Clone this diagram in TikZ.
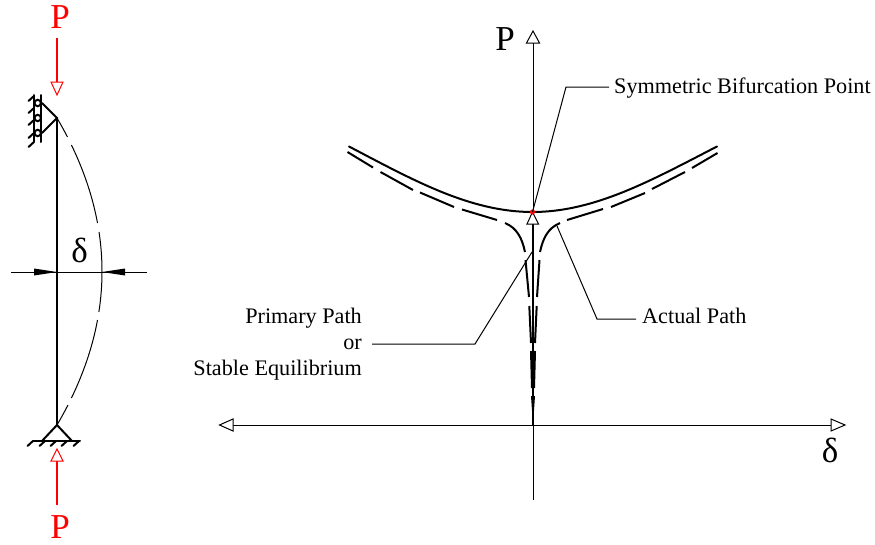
\documentclass[tikz,border=0pt]{standalone}
\usepackage{fontspec}
\setmainfont{Liberation Serif}
\definecolor{pred}{RGB}{255,0,0}
\tikzset{
  thin line/.style={line width=1pt,black},
  col line/.style={line width=2.2pt,black},
  sup line/.style={line width=2pt,black,line cap=round},
  path line/.style={line width=2pt,black,line cap=butt},
  red line/.style={line width=1.1pt,pred},
  open tip/.style={line width=1pt,fill=white,line join=miter},
  solid tip/.style={fill=black,draw=none},
  label text/.style={font=\fontsize{22.2}{26}\selectfont,inner sep=0pt,text=black},
  big text/.style={font=\fontsize{35}{38}\selectfont,inner sep=0pt},
}
\begin{document}
\begin{tikzpicture}[x=1pt,y=-1pt]
\useasboundingbox (0,0) rectangle (875,544);
% named points
\coordinate (colT) at (57,118);
\coordinate (colB) at (57,425);
\coordinate (topA) at (57,38);
\coordinate (topB) at (57,82);
\coordinate (botA) at (57,505);
\coordinate (botB) at (57,461);
\coordinate (dL) at (11,272);
\coordinate (dR) at (147,272);
\coordinate (yT) at (533,43);
\coordinate (yB) at (533,500);
\coordinate (xL) at (233,425);
\coordinate (xR) at (831,425);
\coordinate (bif) at (532.5,212);
\coordinate (a1) at (566,87);
\coordinate (a1e) at (609,87);
\coordinate (act0) at (557,226);
\coordinate (a2) at (597,319);
\coordinate (a2e) at (636,319);
\coordinate (pr0) at (532,252);
\coordinate (a3) at (475,344);
\coordinate (a3e) at (372,344);
% column
\draw[col line] (colT) -- (colB);
\foreach \a/\b in {118/137,145/223,232/312,320/398,405/425}
  \draw[thin line] plot[domain=\a:\b,samples=25,smooth] ({57+45*(1-((\x-271.5)/153.5)^2)},\x);
% roller support
\draw[sup line] (42,103) -- (colT) -- (42,133);
\draw[sup line] (41,95) -- (41,142);
\draw[sup line] (34,95) -- (34,142);
\foreach \y in {103,118,133} \draw[line width=2pt] (37.7,\y) circle (3.2);
\foreach \y in {96,108,120,133,142} \draw[sup line] (34,\y) -- (28.5,{\y+5});
% pin support
\draw[sup line] (42,441) -- (colB) -- (72,441);
\draw[sup line] (33,441) -- (80,441);
\foreach \x in {33,45,56,67,79} \draw[sup line] (\x,441) -- ({\x-5.5},446);
% red loads
\draw[red line] (topA) -- (topB);
\draw[red line,open tip,draw=pred] (51,82) -- (63,82) -- (57,95) -- cycle;
\draw[red line] (botA) -- (botB);
\draw[red line,open tip,draw=pred] (51,461) -- (63,461) -- (57,449) -- cycle;
\node[big text,text=pred] (pTop) at (60,17) {P};
\node[big text,text=pred] (pBot) at (60,527) {P};
% delta dimension
\draw[thin line] (dL) -- (dR);
\fill[solid tip] (57,272) -- (34,268.5) -- (34,275.5) -- cycle;
\fill[solid tip] (102,272) -- (125,268.5) -- (125,275.5) -- cycle;
\node[big text] (dLeft) at (79.5,250) {δ};
% axes
\draw[thin line] (yT) -- (yB);
\draw[line width=1.4pt] (533,224) -- (colB -| yT);
\draw[thin line] (xL) -- (xR);
\draw[open tip] (526.5,43) -- (539.5,43) -- (533,31) -- cycle;
\draw[open tip] (233,419) -- (233,431) -- (219.5,425) -- cycle;
\draw[open tip] (831,419) -- (831,431) -- (845,425) -- cycle;
\node[big text] (pAxis) at (505,39.5) {P};
\node[big text] (dAxis) at (830,450) {δ};
% paths
\draw[path line,line cap=round] (349,146.5) .. controls (413,180) and (470,212) .. (532.5,212);
\draw[path line,line cap=round] (717,146.5) .. controls (652,180) and (595,212) .. (532.5,212);
\begin{scope}[path line]
\draw (347.5,152) -- (373,167.5);
\draw (380.5,172) -- (413,190);
\draw (420,192.5) -- (454,207);
\draw (462,209.5) -- (497,220);
\draw (505,223) .. controls (517,228) and (522,238) .. (525,252);
\draw (525.5,260) -- (529,297);
\draw (529.3,306) -- (531,343);
\draw (531,351) -- (532,388);
\fill (531,396) -- (535,396) -- (533,425) -- cycle;
\draw (717.5,153) -- (692,168);
\draw (685,172) -- (652,189);
\draw (645,193) -- (611,207);
\draw (603,209) -- (567,220);
\draw (560,223) .. controls (548,228) and (543,238) .. (540,252);
\draw (539.5,260) -- (537,297);
\draw (536.7,306) -- (535,343);
\draw (535,351) -- (534,388);
\end{scope}
\draw[open tip] (527,224) -- (538.5,224) -- (532.5,212) -- cycle;
\fill[pred] (bif) circle (2.6);
% labels and leaders
\node[label text,anchor=base west] (sym) at (614,93) {Symmetric Bifurcation Point};
\node[label text,anchor=base west] (act) at (642,323) {Actual Path};
\node[label text,anchor=base east] (pri1) at (362,323) {Primary Path};
\node[label text,anchor=base east] (pri2) at (362,349) {or};
\node[label text,anchor=base east] (pri3) at (362,375) {Stable Equilibrium};
\draw[thin line] (bif) -- (a1) -- (a1e);
\draw[thin line] (act0) -- (a2) -- (a2e);
\draw[thin line] (pr0) -- (a3) -- (a3e);
\end{tikzpicture}
\end{document}
